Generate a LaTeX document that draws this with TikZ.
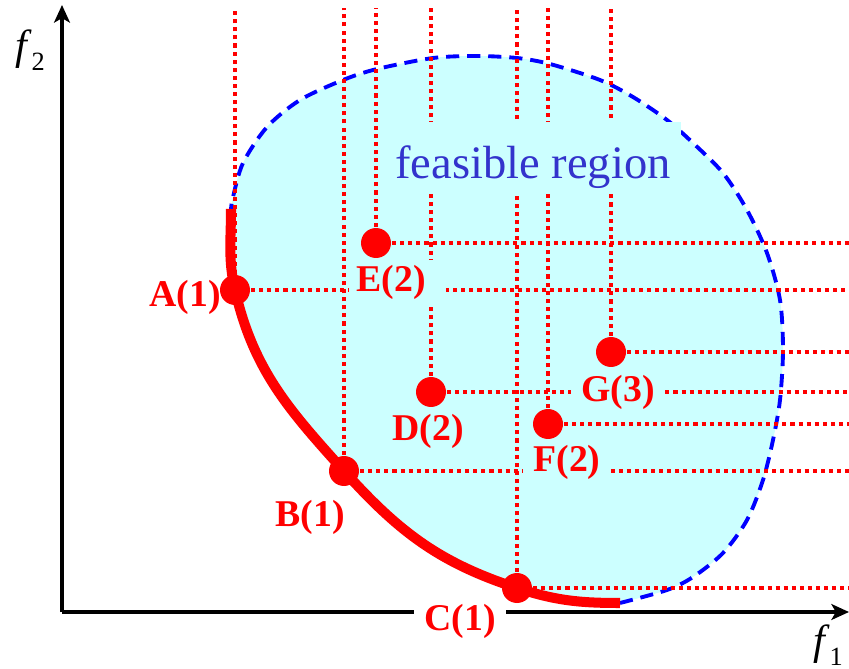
\documentclass[tikz,border=0pt]{standalone}
\usepackage{fontspec}
\setmainfont{Liberation Serif}
\usetikzlibrary{arrows.meta}
\definecolor{regionfill}{RGB}{204,255,255}
\definecolor{regiontext}{RGB}{51,51,204}

\begin{document}
\begin{tikzpicture}[x=0.02cm, y=-0.02cm,
  guide/.style={red, line width=2.3pt, dash pattern=on 2.3pt off 2.3pt},
  border/.style={blue, line width=2.2pt, dash pattern=on 7.5pt off 4.5pt},
  front/.style={red, line width=5.7pt},
  pt/.style={circle, fill=red, inner sep=0pt, minimum size=0.6cm},
  lbl/.style={text=red, font=\bfseries\fontsize{21.5}{24}\selectfont, inner xsep=6pt, inner ysep=3pt},
  axis/.style={line width=2pt, -{Stealth[length=10pt, width=9pt, inset=2.5pt]}}]
\useasboundingbox (0,0) rectangle (849,669);
% Positions of the solutions
\coordinate (a) at (235,290);
\coordinate (b) at (344,471);
\coordinate (c) at (517,588);
\coordinate (d) at (431,392);
\coordinate (e) at (376,243);
\coordinate (f) at (548,424);
\coordinate (g) at (611,352);
\coordinate (front0) at (231,209);
\coordinate (front1) at (620,603);
% Feasible region
\fill[regionfill] (front0) to[out=-90, in=103] (a) to[out=-77, in=132] (b) to[out=-48, in=162] (c) to[out=-18, in=180] (front1)
  -- plot[smooth] coordinates {(620,603) (667,590) (693,577) (723,553) (747,520) (763,480) (773,440) (780,400) (783,350) (780,300) (767,253) (747,210) (723,173) (693,143) (667,120) (633,97) (600,80) (550,64) (517,58) (477,56) (433,58) (377,69) (343,80) (300,100) (267,127) (243,163) (233,197) (231,209)} -- cycle;
\draw[border] plot[smooth] coordinates {(620,603) (667,590) (693,577) (723,553) (747,520) (763,480) (773,440) (780,400) (783,350) (780,300) (767,253) (747,210) (723,173) (693,143) (667,120) (633,97) (600,80) (550,64) (517,58) (477,56) (433,58) (377,69) (343,80) (300,100) (267,127) (243,163) (233,197) (231,209)};
% Dominance guides up and to the right
\coordinate (top) at (0,8);
\coordinate (right) at (849,0);
\foreach \p in {a,b,c,d,e,f,g}
  \draw[guide] (\p) -- (\p |- top) (\p) -- (\p -| right);
% Axes
\coordinate (O) at (62,612);
\coordinate (ytip) at (62,5);
\coordinate (xtip) at (849,612);
\draw[axis] (O) -- (ytip);
\draw[axis] (O) -- (xtip);
\node (f2) at (30,50) {\fontsize{24}{28}\selectfont\itshape f\/\raisebox{-6pt}{\upshape\fontsize{15}{18}\selectfont 2}};
\node (f1) at (828,645) {\fontsize{24}{28}\selectfont\itshape f\/\raisebox{-6pt}{\upshape\fontsize{15}{18}\selectfont 1}};
% Pareto front
\draw[front] (front0) to[out=-90, in=103] (a) to[out=-77, in=132] (b) to[out=-48, in=162] (c) to[out=-18, in=180] (front1);
\node[pt] (A) at (a) {};
\node[pt] (B) at (b) {};
\node[pt] (C) at (c) {};
\node[pt] (D) at (d) {};
\node[pt] (E) at (e) {};
\node[pt] (F) at (f) {};
\node[pt] (G) at (g) {};
% Labels (filled boxes break the guides)
\node[fill=regionfill, text=regiontext, font=\fontsize{26.5}{30}\selectfont, inner xsep=6pt, inner ysep=3pt, text height=28.7pt, text depth=5pt, anchor=base] (feas) at (533,178) {feasible region};
\node[lbl] (Alab) at (185,297) {A(1)};
\node[lbl] (Blab) at (310,517) {B(1)};
\node[lbl, fill=white] (Clab) at (460,621) {C(1)};
\node[lbl, fill=regionfill] (Dlab) at (428,431) {D(2)};
\node[lbl, fill=regionfill, inner xsep=4pt, text width=47pt, align=left, anchor=west] (Elab) at (349,282) {E(2)};
\node[lbl, fill=regionfill] (Flab) at (567,462) {F(2)};
\node[lbl, fill=regionfill] (Glab) at (618,392) {G(3)};
\end{tikzpicture}
\end{document}
